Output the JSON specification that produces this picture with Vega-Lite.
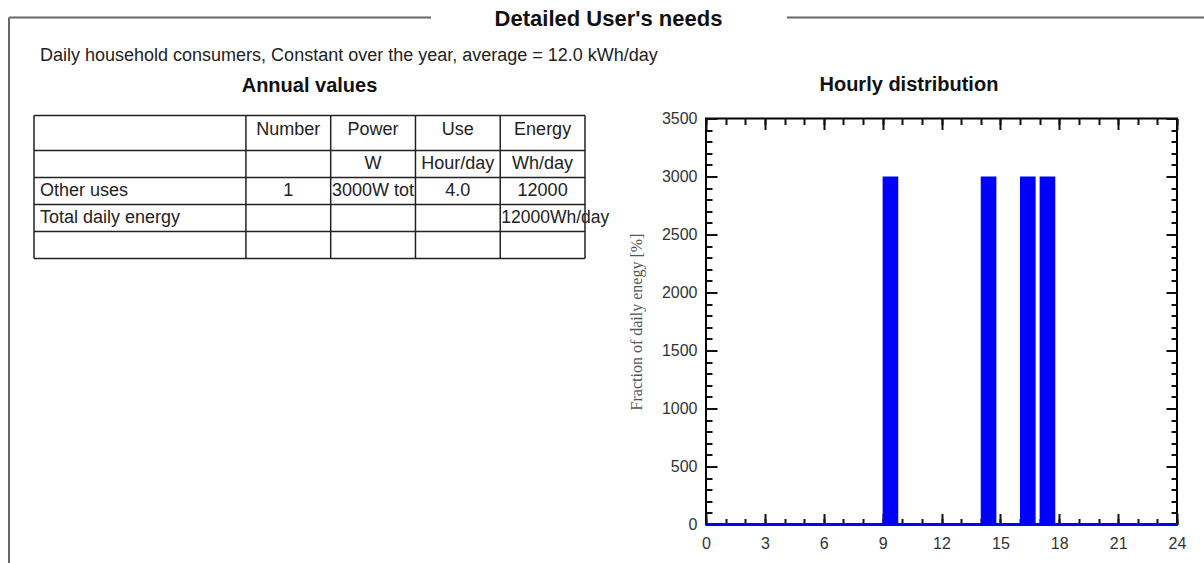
{
  "$schema": "https://vega.github.io/schema/vega-lite/v6.json",
  "background": "white",
  "padding": {"left": 7, "top": 7.5, "right": 0, "bottom": 0},
  "config": {
    "font": "Liberation Sans",
    "view": {"stroke": null}
  },
  "datasets": {
    "cols": [
      {"col": "label", "left": 0, "cx": 1.25},
      {"col": "Number", "left": 2.5, "cx": 3},
      {"col": "Power", "left": 3.5, "cx": 4},
      {"col": "Use", "left": 4.5, "cx": 5},
      {"col": "Energy", "left": 5.5, "cx": 6}
    ],
    "rows": [
      {"row": 0, "cy": 0.53},
      {"row": 1, "cy": 1.81},
      {"row": 2, "cy": 2.8},
      {"row": 3, "cy": 3.8},
      {"row": 4, "cy": 4.8}
    ],
    "cells": [
      {"row": 0, "col": "Number", "text": "Number"},
      {"row": 0, "col": "Power", "text": "Power"},
      {"row": 0, "col": "Use", "text": "Use"},
      {"row": 0, "col": "Energy", "text": "Energy"},
      {"row": 1, "col": "Power", "text": "W"},
      {"row": 1, "col": "Use", "text": "Hour/day"},
      {"row": 1, "col": "Energy", "text": "Wh/day"},
      {"row": 2, "col": "label", "text": "Other uses"},
      {"row": 2, "col": "Number", "text": "1"},
      {"row": 2, "col": "Power", "text": "3000W tot"},
      {"row": 2, "col": "Use", "text": "4.0"},
      {"row": 2, "col": "Energy", "text": "12000"},
      {"row": 3, "col": "label", "text": "Total daily energy"},
      {"row": 3, "col": "Energy", "text": "12000Wh/day"}
    ],
    "vlines": [{"x": 0}, {"x": 2.5}, {"x": 3.5}, {"x": 4.5}, {"x": 5.5}, {"x": 6.5}],
    "hlines": [{"y": 0}, {"y": 1.3}, {"y": 2.3}, {"y": 3.3}, {"y": 4.3}, {"y": 5.3}],
    "frame": [
      {"x": -0.295, "x2": 4.683, "y": -3.632, "y2": -3.632},
      {"x": 8.883, "x2": 13.85, "y": -3.632, "y2": -3.632},
      {"x": -0.295, "x2": -0.295, "y": -3.632, "y2": 16.6}
    ],
    "hourly": [
      {"hour": 0, "hour_end": 1, "energy": 0},
      {"hour": 1, "hour_end": 2, "energy": 0},
      {"hour": 2, "hour_end": 3, "energy": 0},
      {"hour": 3, "hour_end": 4, "energy": 0},
      {"hour": 4, "hour_end": 5, "energy": 0},
      {"hour": 5, "hour_end": 6, "energy": 0},
      {"hour": 6, "hour_end": 7, "energy": 0},
      {"hour": 7, "hour_end": 8, "energy": 0},
      {"hour": 8, "hour_end": 9, "energy": 0},
      {"hour": 9, "hour_end": 10, "energy": 3000},
      {"hour": 10, "hour_end": 11, "energy": 0},
      {"hour": 11, "hour_end": 12, "energy": 0},
      {"hour": 12, "hour_end": 13, "energy": 0},
      {"hour": 13, "hour_end": 14, "energy": 0},
      {"hour": 14, "hour_end": 15, "energy": 3000},
      {"hour": 15, "hour_end": 16, "energy": 0},
      {"hour": 16, "hour_end": 17, "energy": 3000},
      {"hour": 17, "hour_end": 18, "energy": 3000},
      {"hour": 18, "hour_end": 19, "energy": 0},
      {"hour": 19, "hour_end": 20, "energy": 0},
      {"hour": 20, "hour_end": 21, "energy": 0},
      {"hour": 21, "hour_end": 22, "energy": 0},
      {"hour": 22, "hour_end": 23, "energy": 0},
      {"hour": 23, "hour_end": 24, "energy": 0}
    ]
  },
  "bounds": "flush",
  "spacing": 121,
  "hconcat": [
    {
      "width": 551,
      "height": 140,
      "view": {"stroke": null},
      "layer": [
        {
          "data": {"name": "vlines"},
          "mark": {"type": "rule", "color": "#222222", "strokeWidth": 1.5},
          "encoding": {
            "x": {"field": "x", "type": "quantitative", "scale": {"domain": [0, 6.5], "nice": false, "zero": false}, "axis": null},
            "y": {"datum": 0, "type": "quantitative", "scale": {"domain": [0.111, 5.3], "nice": false, "zero": false, "reverse": true}, "axis": null},
            "y2": {"datum": 5.3}
          }
        },
        {
          "data": {"name": "hlines"},
          "mark": {"type": "rule", "color": "#222222", "strokeWidth": 1.5},
          "encoding": {
            "y": {"field": "y", "type": "quantitative", "scale": {"domain": [0.111, 5.3], "nice": false, "zero": false, "reverse": true}, "axis": null},
            "x": {"datum": 0, "type": "quantitative", "scale": {"domain": [0, 6.5], "nice": false, "zero": false}, "axis": null},
            "x2": {"datum": 6.5}
          }
        },
        {
          "data": {"name": "frame"},
          "mark": {"type": "rule", "color": "#666666", "strokeWidth": 2},
          "encoding": {
            "x": {"field": "x", "type": "quantitative", "scale": {"domain": [0, 6.5], "nice": false, "zero": false}, "axis": null},
            "x2": {"field": "x2"},
            "y": {"field": "y", "type": "quantitative", "scale": {"domain": [0.111, 5.3], "nice": false, "zero": false, "reverse": true}, "axis": null},
            "y2": {"field": "y2"}
          }
        },
        {
          "data": {"values": [{}]},
          "mark": {"type": "text", "align": "center", "baseline": "middle", "fontSize": 22, "fontWeight": "bold", "color": "#111111"},
          "encoding": {
            "x": {"datum": 6.777, "type": "quantitative", "scale": {"domain": [0, 6.5], "nice": false, "zero": false}, "axis": null},
            "y": {"datum": -3.595, "type": "quantitative", "scale": {"domain": [0.111, 5.3], "nice": false, "zero": false, "reverse": true}, "axis": null},
            "text": {"value": "Detailed User's needs"}
          }
        },
        {
          "data": {"values": [{}]},
          "mark": {"type": "text", "align": "left", "baseline": "middle", "fontSize": 18, "color": "#222222", "dx": 6},
          "encoding": {
            "x": {"datum": 0, "type": "quantitative", "scale": {"domain": [0, 6.5], "nice": false, "zero": false}, "axis": null},
            "y": {"datum": -2.224, "type": "quantitative", "scale": {"domain": [0.111, 5.3], "nice": false, "zero": false, "reverse": true}, "axis": null},
            "text": {"value": "Daily household consumers, Constant over the year, average = 12.0 kWh/day"}
          }
        },
        {
          "data": {"values": [{}]},
          "mark": {"type": "text", "align": "center", "baseline": "middle", "fontSize": 20, "fontWeight": "bold", "color": "#111111"},
          "encoding": {
            "x": {"datum": 3.25, "type": "quantitative", "scale": {"domain": [0, 6.5], "nice": false, "zero": false}, "axis": null},
            "y": {"datum": -1.112, "type": "quantitative", "scale": {"domain": [0.111, 5.3], "nice": false, "zero": false, "reverse": true}, "axis": null},
            "text": {"value": "Annual values"}
          }
        },
        {
          "data": {"name": "cells"},
          "transform": [
            {"lookup": "col", "from": {"data": {"name": "cols"}, "key": "col", "fields": ["left", "cx"]}},
            {"lookup": "row", "from": {"data": {"name": "rows"}, "key": "row", "fields": ["cy"]}},
            {"filter": "datum.col !== 'label' && datum.text !== '12000Wh/day'"}
          ],
          "mark": {"type": "text", "align": "center", "baseline": "middle", "fontSize": 18, "color": "#222222"},
          "encoding": {
            "x": {"field": "cx", "type": "quantitative", "scale": {"domain": [0, 6.5], "nice": false, "zero": false}, "axis": null},
            "y": {"field": "cy", "type": "quantitative", "scale": {"domain": [0.111, 5.3], "nice": false, "zero": false, "reverse": true}, "axis": null},
            "text": {"field": "text"}
          }
        },
        {
          "data": {"name": "cells"},
          "transform": [
            {"lookup": "col", "from": {"data": {"name": "cols"}, "key": "col", "fields": ["left", "cx"]}},
            {"lookup": "row", "from": {"data": {"name": "rows"}, "key": "row", "fields": ["cy"]}},
            {"filter": "datum.col === 'label'"}
          ],
          "mark": {"type": "text", "align": "left", "baseline": "middle", "fontSize": 18, "color": "#222222", "dx": 6},
          "encoding": {
            "x": {"field": "left", "type": "quantitative", "scale": {"domain": [0, 6.5], "nice": false, "zero": false}, "axis": null},
            "y": {"field": "cy", "type": "quantitative", "scale": {"domain": [0.111, 5.3], "nice": false, "zero": false, "reverse": true}, "axis": null},
            "text": {"field": "text"}
          }
        },
        {
          "data": {"name": "cells"},
          "transform": [
            {"lookup": "col", "from": {"data": {"name": "cols"}, "key": "col", "fields": ["left", "cx"]}},
            {"lookup": "row", "from": {"data": {"name": "rows"}, "key": "row", "fields": ["cy"]}},
            {"filter": "datum.text === '12000Wh/day'"}
          ],
          "mark": {"type": "text", "align": "left", "baseline": "middle", "fontSize": 17.5, "color": "#222222", "dx": 1},
          "encoding": {
            "x": {"field": "left", "type": "quantitative", "scale": {"domain": [0, 6.5], "nice": false, "zero": false}, "axis": null},
            "y": {"field": "cy", "type": "quantitative", "scale": {"domain": [0.111, 5.3], "nice": false, "zero": false, "reverse": true}, "axis": null},
            "text": {"field": "text"}
          }
        }
      ]
    },
    {
      "width": 471,
      "height": 406,
      "view": {"stroke": "#000000", "strokeWidth": 2},
      "data": {"name": "hourly"},
      "layer": [
        {
          "mark": {"type": "bar", "color": "#0000ff", "binSpacing": 4, "xOffset": -2.5, "x2Offset": -2.5},
          "encoding": {
            "x": {"field": "hour", "type": "quantitative", "bin": "binned", "scale": {"domain": [0, 24], "nice": false, "zero": false},
              "axis": {"orient": "bottom", "values": [0, 3, 6, 9, 12, 15, 18, 21, 24], "tickSize": -11, "tickColor": "#111111", "tickWidth": 2, "domain": false, "grid": false, "labelFontSize": 16, "labelColor": "#333333", "labelPadding": 22, "labelFlush": false, "labelOverlap": false, "title": null}},
            "x2": {"field": "hour_end"},
            "y": {"field": "energy", "type": "quantitative", "scale": {"domain": [0, 3500], "nice": false},
              "axis": {"orient": "left", "values": [0, 500, 1000, 1500, 2000, 2500, 3000, 3500], "format": "d", "tickSize": -11, "tickColor": "#111111", "tickWidth": 2, "domain": false, "grid": false, "labelFontSize": 16, "labelColor": "#333333", "labelPadding": 20, "labelFlush": false, "labelOverlap": false,
                "title": "Fraction of daily enegy [%]", "titleFont": "Liberation Serif", "titleFontSize": 16, "titleFontWeight": "normal", "titleColor": "#555555", "titlePadding": 17}}
          }
        },
        {
          "mark": {"type": "bar", "opacity": 0},
          "encoding": {
            "x": {"field": "hour", "type": "quantitative", "bin": "binned", "scale": {"domain": [0, 24], "nice": false, "zero": false},
              "axis": {"orient": "bottom", "values": [0, 1, 2, 3, 4, 5, 6, 7, 8, 9, 10, 11, 12, 13, 14, 15, 16, 17, 18, 19, 20, 21, 22, 23, 24], "tickSize": -6, "tickColor": "#111111", "tickWidth": 2, "domain": false, "grid": false, "labels": false, "title": null}},
            "x2": {"field": "hour_end"},
            "y": {"field": "energy", "type": "quantitative", "scale": {"domain": [0, 3500], "nice": false},
              "axis": {"orient": "left", "values": [0, 100, 200, 300, 400, 500, 600, 700, 800, 900, 1000, 1100, 1200, 1300, 1400, 1500, 1600, 1700, 1800, 1900, 2000, 2100, 2200, 2300, 2400, 2500, 2600, 2700, 2800, 2900, 3000, 3100, 3200, 3300, 3400, 3500], "tickSize": -6, "tickColor": "#111111", "tickWidth": 2, "domain": false, "grid": false, "labels": false, "title": null}}
          }
        },
        {
          "mark": {"type": "bar", "opacity": 0},
          "encoding": {
            "x": {"field": "hour", "type": "quantitative", "bin": "binned", "scale": {"domain": [0, 24], "nice": false, "zero": false},
              "axis": {"orient": "top", "values": [0, 3, 6, 9, 12, 15, 18, 21, 24], "tickSize": -11, "tickColor": "#111111", "tickWidth": 2, "domain": false, "grid": false, "labels": false, "title": null}},
            "x2": {"field": "hour_end"},
            "y": {"field": "energy", "type": "quantitative", "scale": {"domain": [0, 3500], "nice": false},
              "axis": {"orient": "right", "values": [0, 500, 1000, 1500, 2000, 2500, 3000, 3500], "tickSize": -11, "tickColor": "#111111", "tickWidth": 2, "domain": false, "grid": false, "labels": false, "title": null}}
          }
        },
        {
          "mark": {"type": "bar", "opacity": 0},
          "encoding": {
            "x": {"field": "hour", "type": "quantitative", "bin": "binned", "scale": {"domain": [0, 24], "nice": false, "zero": false},
              "axis": {"orient": "top", "values": [0, 1, 2, 3, 4, 5, 6, 7, 8, 9, 10, 11, 12, 13, 14, 15, 16, 17, 18, 19, 20, 21, 22, 23, 24], "tickSize": -6, "tickColor": "#111111", "tickWidth": 2, "domain": false, "grid": false, "labels": false, "title": null}},
            "x2": {"field": "hour_end"},
            "y": {"field": "energy", "type": "quantitative", "scale": {"domain": [0, 3500], "nice": false},
              "axis": {"orient": "right", "values": [0, 100, 200, 300, 400, 500, 600, 700, 800, 900, 1000, 1100, 1200, 1300, 1400, 1500, 1600, 1700, 1800, 1900, 2000, 2100, 2200, 2300, 2400, 2500, 2600, 2700, 2800, 2900, 3000, 3100, 3200, 3300, 3400, 3500], "tickSize": -6, "tickColor": "#111111", "tickWidth": 2, "domain": false, "grid": false, "labels": false, "title": null}}
          }
        },
        {
          "mark": {"type": "rule", "color": "#0000ff", "strokeWidth": 2.5},
          "encoding": {
            "y": {"datum": 0, "type": "quantitative", "scale": {"domain": [0, 3500], "nice": false}, "axis": null}
          }
        },
        {
          "data": {"values": [{}]},
          "mark": {"type": "text", "align": "center", "baseline": "middle", "fontSize": 20, "fontWeight": "bold", "color": "#111111"},
          "encoding": {
            "x": {"datum": 10.34, "type": "quantitative", "scale": {"domain": [0, 24], "nice": false, "zero": false}, "axis": null},
            "y": {"datum": 3784.5, "type": "quantitative", "scale": {"domain": [0, 3500], "nice": false}, "axis": null},
            "text": {"value": "Hourly distribution"}
          }
        }
      ],
      "resolve": {"axis": {"x": "independent", "y": "independent"}}
    }
  ]
}
